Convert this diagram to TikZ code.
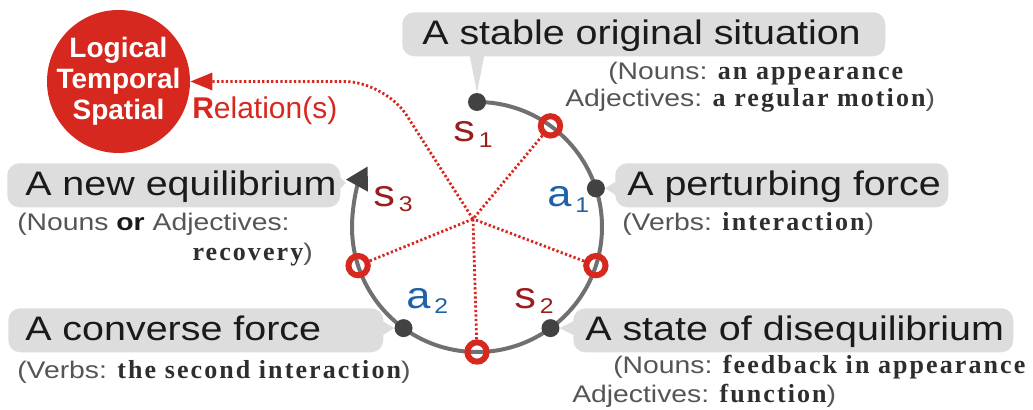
\documentclass[tikz,border=0pt]{standalone}
\usepackage{fontspec}
\setmainfont{Liberation Sans}
\newfontfamily\headfont[FakeStretch=1.16]{Liberation Sans}
\newfontfamily\notefont[FakeStretch=1.18]{Liberation Sans}
\newfontfamily\keyfont[LetterSpace=8]{Liberation Serif}
\usetikzlibrary{arrows.meta,calc}

\definecolor{relred}{HTML}{D7281F}
\definecolor{sred}{HTML}{9A1E1E}
\definecolor{ablue}{HTML}{1F62A6}
\definecolor{arcgray}{HTML}{707070}
\definecolor{dotgray}{HTML}{424242}
\definecolor{boxgray}{HTML}{DDDDDD}
\definecolor{headtext}{HTML}{1A1A1A}
\definecolor{notegray}{HTML}{555555}
\definecolor{keydark}{HTML}{2E2E2E}

% key words in spaced bold serif
\newcommand\kw[1]{{\keyfont\bfseries\fontsize{19.5pt}{22pt}\selectfont\color{keydark}#1}}
% stage letter with its index
\newcommand\stagelabel[2]{\headfont\fontsize{28pt}{28pt}\selectfont #1\hspace{3pt}\raisebox{-4pt}{\fontsize{16pt}{16pt}\selectfont #2}}

\begin{document}
\begin{tikzpicture}[x=0.75pt,y=-0.75pt,
  callout/.style={fill=boxgray, rounded corners=9pt, inner ysep=0pt,
    text height=24pt, text depth=9pt, anchor=north west,
    font=\headfont\fontsize{25.5pt}{30pt}\selectfont, text=headtext},
  note/.style={anchor=base west, inner sep=0pt,
    font=\notefont\fontsize{18pt}{22pt}\selectfont, text=notegray},
  tab/.style={fill=boxgray},
  stage/.style={circle, fill=dotgray, minimum size=13.5pt, inner sep=0pt},
  turn/.style={circle, draw=relred, line width=4.5pt, minimum size=14.5pt, inner sep=0pt},
  loopline/.style={draw=arcgray, line width=3pt},
  relline/.style={draw=relred, line width=2.1pt, dash pattern=on 1.7pt off 1.7pt},
  slabel/.style={anchor=base west, inner sep=0pt, text=sred},
  alabel/.style={anchor=base west, inner sep=0pt, text=ablue}]
\useasboundingbox (0,0) rectangle (1033,410);

% callout boxes
\node[callout, inner xsep=15pt] (b1) at (402,12) {\makebox[332.25pt][l]{A stable original situation}};
\node[callout, inner xsep=9pt] (b2) at (615,163) {\makebox[231.75pt][l]{A perturbing force}};
\node[callout, inner xsep=13.5pt] (b3) at (7,163) {\makebox[222.75pt][l]{A new equilibrium}};
\node[callout, inner xsep=12.75pt] (b4) at (8,308) {\makebox[255.75pt][l]{A converse force}};
\node[callout, inner xsep=9pt] (b5) at (573,308) {\makebox[312pt][l]{A state of disequilibrium}};

% the cycle
\begin{scope}[shift={(477,227)}, x=0.75pt, y=0.75pt]
  \draw[loopline, -{Triangle[length=16.5pt, width=18pt, color=dotgray]}]
    (90:125) arc[start angle=90, end angle=-209, radius=125];
  \node[turn] (rA) at (54:125) {};
  \node[turn] (rB) at (-18:125) {};
  \node[turn] (rC) at (-90:125) {};
  \node[turn] (rD) at (-162:125) {};
  \node[stage] (dA) at (90:125) {};
  \node[stage] (dB) at (18:125) {};
  \node[stage] (dC) at (-54:125) {};
  \node[stage] (dD) at (-126:125) {};
\end{scope}
\coordinate (eqtip) at (346,183);

% callout pointers
\fill[tab] ($(dA |- b1.south)+(-5.5pt,1pt)$) -- (dA.north) -- ($(dA |- b1.south)+(5.5pt,1pt)$) -- cycle;
\fill[tab] ($(b2.west |- dB)+(2pt,6pt)$) -- (dB.east) -- ($(b2.west |- dB)+(2pt,-6pt)$) -- cycle;
\fill[tab] ($(b5.west |- dC)+(2pt,6pt)$) -- (dC.east) -- ($(b5.west |- dC)+(2pt,-6pt)$) -- cycle;
\fill[tab] ($(b4.east |- dD)+(-2pt,6pt)$) -- (dD.west) -- ($(b4.east |- dD)+(-2pt,-6pt)$) -- cycle;
\fill[tab] ($(b3.east |- eqtip)+(-2pt,6pt)$) -- (eqtip) -- ($(b3.east |- eqtip)+(-2pt,-6pt)$) -- cycle;

% relation circle
\node[circle, fill=relred, minimum size=107.25pt, inner sep=0pt] (lts) at (118.5,81.5) {};
\node[align=center, inner sep=0pt, text=white,
  font=\bfseries\fontsize{21pt}{23.25pt}\selectfont] (ltstext) at (lts) {Logical\\Temporal\\Spatial};
\node[anchor=base west, inner sep=0pt, text=relred,
  font=\fontsize{22.5pt}{26pt}\selectfont] (rel) at (192,118) {{\bfseries R}elation(s)};

% dotted relation links
\coordinate (hub) at (473,219);
\coordinate (bend) at (385,81.5);
\draw[relline] (rA) -- (hub);
\draw[relline] (rB) -- (hub);
\draw[relline] (rC) -- (hub);
\draw[relline] (rD) -- (hub);
\draw[relline, rounded corners=30pt, -{Triangle[length=16.5pt, width=12.75pt]}]
  (hub) -- (bend) -- (lts);

% stage labels
\node[slabel] (s1) at (453,141.7) {\stagelabel{s}{1}};
\node[alabel] (a1) at (547,206.7) {\stagelabel{a}{1}};
\node[slabel] (s3) at (373,206) {\stagelabel{s}{3}};
\node[alabel] (a2) at (406,308) {\stagelabel{a}{2}};
\node[slabel] (s2) at (514,308) {\stagelabel{s}{2}};

% notes
\node[note] (n1a) at (608,80) {(Nouns: \kw{an appearance}};
\node[note] (n1b) at (565,107) {Adjectives: \kw{a regular motion})};
\node[note] (n2) at (622,230) {(Verbs: \kw{interaction})};
\node[note] (n3a) at (17,230) {(Nouns {\bfseries\color{headtext}or} Adjectives:};
\node[note, anchor=base east] (n3b) at (313,260) {\kw{recovery})};
\node[note] (n4) at (17,378) {(Verbs: \kw{the second interaction})};
\node[note] (n5a) at (613,373) {(Nouns: \kw{feedback in appearance}};
\node[note] (n5b) at (572,402) {Adjectives: \kw{function})};
\end{tikzpicture}
\end{document}
